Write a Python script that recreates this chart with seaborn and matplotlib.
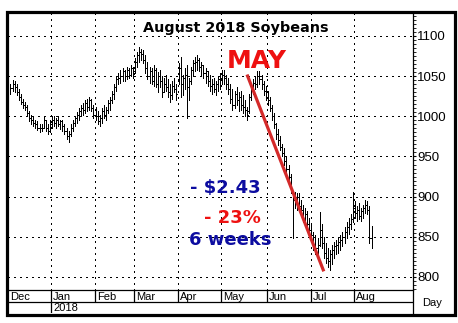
import numpy as np
import pandas as pd
import matplotlib
matplotlib.use("Agg")
import matplotlib.pyplot as plt
import matplotlib.transforms as mtransforms
from matplotlib.patches import Rectangle
from matplotlib.ticker import MultipleLocator, FixedLocator
import seaborn as sns

sns.set_style("white")
plt.rcParams["font.family"] = ["DejaVu Sans"]

# ---------------- data ----------------
holidays = ["2017-12-25", "2018-01-01", "2018-01-15", "2018-02-19",
            "2018-03-30", "2018-05-28", "2018-07-04"]
start_date = "2017-12-01"
end_date = "2018-08-13"

highs = [
    1040, 1045, 1044, 1040, 1034, 1028, 1022, 1018, 1014, 1006, 1002, 1000, 996, 994, 990, 990, 1000, 996, 990, 995,
    1000, 1000, 998, 1000, 996, 995, 990, 985, 982, 990, 996, 1000, 1005, 1010, 1014, 1016, 1020, 1022, 1024, 1022, 1014,
    1012, 1006, 1002, 1010, 1014, 1012, 1020, 1024, 1032, 1040, 1050, 1054, 1058, 1060, 1058, 1062, 1060, 1064, 1062,
    1072, 1080, 1086, 1084, 1082, 1076, 1068, 1062, 1060, 1064, 1060, 1055, 1058, 1050, 1048, 1052, 1046, 1040, 1044, 1048, 1040,
    1066, 1074, 1052, 1060, 1064, 1048, 1062, 1070, 1074, 1076, 1072, 1068, 1064, 1060, 1056, 1052, 1046, 1048, 1044, 1050, 1054,
    1058, 1058, 1052, 1048, 1040, 1034, 1032, 1036, 1030, 1032, 1026, 1020, 1012, 1028, 1040, 1046, 1050, 1056, 1056, 1052, 1044, 1038,
    1032, 1024, 1014, 1004, 992, 984, 976, 966, 960, 950, 940, 928, 906, 906, 905, 904, 896, 890, 886, 882, 874,
    866, 856, 852, 848, 881, 866, 850, 842, 836, 834, 840, 844, 846, 850, 852, 856, 862, 868, 874, 878, 906,
    894, 888, 892, 886, 890, 896, 894, 888, 864,
]
lows = [
    1028, 1032, 1030, 1026, 1020, 1015, 1010, 1008, 1000, 994, 990, 988, 985, 983, 980, 982, 985, 982, 978, 980,
    986, 988, 985, 988, 984, 982, 978, 972, 968, 976, 982, 988, 992, 996, 1000, 1002, 1004, 1006, 1008, 1006, 998,
    996, 990, 988, 992, 998, 996, 1004, 1008, 1016, 1022, 1032, 1040, 1042, 1044, 1044, 1046, 1048, 1050, 1048,
    1054, 1062, 1068, 1070, 1066, 1054, 1046, 1042, 1040, 1038, 1036, 1030, 1036, 1024, 1030, 1032, 1024, 1018, 1022, 1030, 1020,
    1040, 1024, 1026, 1034, 998, 1020, 1040, 1050, 1056, 1058, 1056, 1052, 1048, 1042, 1038, 1032, 1028, 1030, 1026, 1032, 1034,
    1040, 1040, 1034, 1028, 1016, 1008, 1010, 1014, 1006, 1008, 1004, 1000, 995, 1004, 1020, 1028, 1034, 1036, 1040, 1034, 1026, 1020,
    1014, 1006, 996, 986, 972, 964, 958, 950, 940, 930, 920, 905, 849, 886, 884, 882, 878, 868, 864, 860, 852,
    846, 834, 828, 826, 838, 836, 824, 818, 812, 809, 816, 824, 828, 830, 834, 838, 842, 848, 854, 860, 868,
    874, 870, 872, 870, 874, 880, 878, 842, 836,
]
opens = [
    1038, 1035, 1040, 1036, 1030, 1024, 1018, 1014, 1012, 1004, 998, 996, 992, 990, 986, 985, 986, 995, 986, 982,
    990, 995, 992, 995, 990, 994, 988, 982, 976, 978, 986, 992, 998, 1002, 1006, 1010, 1008, 1016, 1012, 1020, 1010,
    1002, 1000, 994, 998, 1006, 1002, 1008, 1016, 1020, 1028, 1036, 1046, 1048, 1050, 1056, 1050, 1058, 1052, 1060,
    1056, 1068, 1076, 1080, 1078, 1070, 1060, 1050, 1056, 1044, 1058, 1040, 1050, 1044, 1030, 1040, 1036, 1030, 1026, 1038, 1034,
    1044, 1060, 1040, 1048, 1052, 1036, 1044, 1058, 1066, 1068, 1070, 1062, 1064, 1054, 1056, 1044, 1038, 1040, 1034, 1040, 1046,
    1048, 1052, 1048, 1040, 1034, 1022, 1014, 1028, 1020, 1024, 1014, 1012, 1008, 1006, 1024, 1036, 1042, 1040, 1050, 1046, 1040, 1032,
    1030, 1020, 1010, 1000, 990, 978, 970, 962, 954, 944, 934, 924, 905, 896, 896, 900, 888, 884, 872, 878, 866,
    858, 852, 840, 836, 840, 858, 842, 830, 824, 820, 828, 834, 838, 840, 844, 846, 850, 856, 862, 866, 872,
    886, 880, 884, 876, 882, 886, 890, 884, 848,
]
closes = [
    1035, 1040, 1036, 1030, 1024, 1018, 1014, 1012, 1004, 998, 996, 992, 990, 986, 985, 986, 995, 986, 982, 990,
    995, 992, 995, 990, 994, 988, 982, 976, 978, 986, 992, 998, 1002, 1006, 1010, 1008, 1016, 1012, 1020, 1010, 1002,
    1000, 994, 998, 1006, 1002, 1008, 1016, 1020, 1028, 1036, 1046, 1048, 1050, 1056, 1050, 1058, 1052, 1060, 1056,
    1068, 1076, 1080, 1078, 1070, 1060, 1050, 1056, 1044, 1058, 1040, 1050, 1044, 1030, 1040, 1036, 1030, 1026, 1038, 1034, 1028,
    1060, 1040, 1048, 1052, 1036, 1044, 1058, 1066, 1068, 1070, 1062, 1064, 1054, 1056, 1044, 1038, 1040, 1034, 1040, 1046, 1048,
    1052, 1048, 1040, 1034, 1022, 1014, 1028, 1020, 1024, 1014, 1012, 1008, 1002, 1024, 1036, 1042, 1040, 1050, 1046, 1040, 1032, 1030,
    1020, 1010, 1000, 990, 978, 970, 962, 954, 944, 934, 924, 912, 896, 896, 900, 888, 884, 872, 878, 866, 858,
    852, 840, 836, 832, 858, 842, 830, 824, 820, 828, 834, 838, 840, 844, 846, 850, 856, 862, 866, 872, 886,
    880, 884, 876, 882, 886, 890, 884, 848, 860,
]

trend_dates = ["2018-05-17", "2018-07-11"]
trend_prices = [1052, 807]

y_major = [800, 850, 900, 950, 1000, 1050, 1100]

title_text = "August 2018 Soybeans"
note_may = "MAY"
note_drop = "- $2.43"
note_pct = "- 23%"
note_weeks = "6 weeks"

# ---------------- frame ----------------
dates = pd.bdate_range(start_date, end_date, freq="C", holidays=holidays)
n = min(len(dates), len(highs), len(lows), len(opens), len(closes))
df = pd.DataFrame({"date": dates[:n], "open": opens[:n], "high": highs[:n],
                   "low": lows[:n], "close": closes[:n]})
df["idx"] = np.arange(n)
date_to_idx = dict(zip(df["date"], df["idx"]))

W, H = 458, 323
fig = plt.figure(figsize=(W / 100, H / 100), dpi=100)
fig.patch.set_facecolor("white")

def fx(px):
    return px / W

def fy(py):
    return 1 - py / H

L, R, T, B = 8, 413, 13, 290
ax = fig.add_axes([fx(L), fy(B), fx(R - L), (B - T) / H])
ax.set_facecolor("white")

XMIN, XMAX = -1.2, 194.0
YMIN, YMAX = 783.8, 1128.6
ax.set_xlim(XMIN, XMAX)
ax.set_ylim(YMIN, YMAX)

# month starts
month_first = df.groupby([df["date"].dt.year, df["date"].dt.month])["idx"].min().values
month_names = [df["date"].iloc[i].strftime("%b") for i in month_first]

# grid
for yv in y_major:
    ax.axhline(yv, color="black", lw=0.75, linestyle=(0, (1, 4)), antialiased=False, zorder=1)
for i in month_first[1:]:
    ax.axvline(i - 0.4, color="black", lw=0.75, linestyle=(0, (1, 4)), antialiased=False, zorder=1)

# OHLC bars
lw_bar = 0.7
tick = 0.42
ax.vlines(df["idx"], df["low"], df["high"], color="black", lw=lw_bar, antialiased=False, zorder=3)
ax.hlines(df["open"], df["idx"] - tick, df["idx"], color="black", lw=lw_bar, antialiased=False, zorder=3)
ax.hlines(df["close"], df["idx"], df["idx"] + tick, color="black", lw=lw_bar, antialiased=False, zorder=3)

# trend line
trend_df = pd.DataFrame({"x": [date_to_idx[pd.Timestamp(d)] for d in trend_dates],
                         "y": trend_prices})
sns.lineplot(data=trend_df, x="x", y="y", ax=ax, color="#d42a2a", lw=2.3, zorder=4,
             solid_capstyle="butt")

# axes styling
for s in ["left", "top", "bottom"]:
    ax.spines[s].set_visible(False)
ax.spines["right"].set_visible(True)
ax.spines["right"].set_color("black")
ax.spines["right"].set_linewidth(0.9)
ax.set_xticks([])
ax.set_xlabel("")
ax.set_ylabel("")
ax.yaxis.tick_right()
ax.yaxis.set_major_locator(FixedLocator(y_major))
ax.yaxis.set_minor_locator(MultipleLocator(5))
ax.tick_params(axis="y", which="major", length=2.4, width=0.8, pad=0.6, colors="black",
               labelsize=9.5, right=True, left=False)
ax.tick_params(axis="y", which="minor", length=2.0, width=0.7, right=True, left=False)
for lab in ax.get_yticklabels():
    lab.set_fontfamily("Liberation Sans")
ax.grid(False)

# annotations
ax.text(0.5617, (B - 31.7) / (B - T), title_text, transform=ax.transAxes, ha="center",
        va="baseline", fontsize=10.4, fontweight="bold", color="black", zorder=5)
ax.text(118.8, 1060, note_may, ha="center", va="baseline", fontsize=18,
        fontweight="bold", color="#ee1111", zorder=5)
ax.text(103.4, 904.6, note_drop, ha="center", va="baseline", fontsize=13,
        fontweight="bold", color="#0c0ca0", zorder=5)
ax.text(107.2, 867.2, note_pct, ha="center", va="baseline", fontsize=13,
        fontweight="bold", color="#ee1111", zorder=5)
ax.text(106.0, 839.8, note_weeks, ha="center", va="baseline", fontsize=13,
        fontweight="bold", color="#0c0ca0", zorder=5)

# date strip
SB = 313
axs = fig.add_axes([fx(L), fy(SB), fx(R - L), (SB - B) / H])
axs.set_xlim(XMIN, XMAX)
axs.set_ylim(0, 1)
axs.set_facecolor("white")
for s in ["left", "top", "bottom"]:
    axs.spines[s].set_visible(False)
axs.spines["right"].set_visible(True)
axs.spines["right"].set_linewidth(0.9)
axs.spines["right"].set_color("black")
axs.set_xticks([])
axs.set_yticks([])
mid = (SB - 302) / (SB - B)
axs.axhline(1.0, color="black", lw=0.9, clip_on=False)
axs.axhline(mid, color="black", lw=0.9)
for i in month_first[1:]:
    axs.vlines(i - 0.4, mid, 1.0, color="black", lw=0.9)
year_first = df.groupby(df["date"].dt.year)["idx"].min().values
for i in year_first[1:]:
    axs.vlines(i - 0.4, 0, mid, color="black", lw=0.9)

off = mtransforms.offset_copy(axs.transData, fig=fig, x=1.5, y=0, units="points")
label_pos = [XMIN] + [i - 0.4 for i in month_first[1:]]
for pos, name in zip(label_pos, month_names):
    axs.text(pos, (1 + mid) / 2 - 0.03, name, transform=off, ha="left", va="center",
             fontsize=8, fontfamily="Liberation Sans", color="black")
for i in year_first[1:]:
    axs.text(i - 0.4, mid / 2 - 0.03, str(df["date"].iloc[i].year), transform=off,
             ha="left", va="center", fontsize=8, fontfamily="Liberation Sans", color="black")

fig.text(fx(432), fy(303), "Day", ha="center", va="center", fontsize=8,
         fontfamily="Liberation Sans", color="black")

# outer frame
fig.add_artist(Rectangle((fx(7), fy(314.5)), fx(454.5 - 7), (314.5 - 11.5) / H,
                         transform=fig.transFigure, fill=False, edgecolor="black",
                         lw=2.3, zorder=10))

fig.savefig("out.png", dpi=100, facecolor="white")
